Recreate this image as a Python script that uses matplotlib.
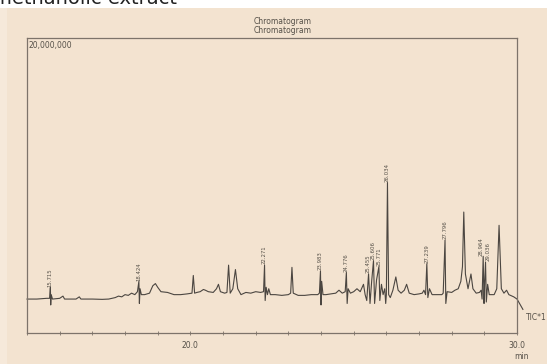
import numpy as np
import matplotlib
matplotlib.use("Agg")
import matplotlib.pyplot as plt
from matplotlib.patches import Rectangle

# TIC trace vertices: retention time (min), intensity (millions)
trace_t = [15.0, 15.3, 15.6, 15.69, 15.715, 15.725, 15.74, 15.78, 16.0, 16.1, 16.15, 16.5, 16.6, 16.65,
           17.0, 17.3, 17.5, 17.7, 17.8, 17.9, 18.0, 18.1, 18.2, 18.3, 18.38, 18.424, 18.44, 18.46, 18.5, 18.6,
           18.75, 18.85, 18.93, 19.0, 19.1, 19.3, 19.5, 19.7, 19.9,
           20.05, 20.09, 20.13, 20.2, 20.3, 20.4, 20.46, 20.55, 20.7, 20.8, 20.86, 20.92, 21.05,
           21.12, 21.17, 21.22, 21.3, 21.38, 21.45, 21.55, 21.7, 21.85, 22.0, 22.15,
           22.24, 22.271, 22.29, 22.32, 22.36, 22.4, 22.45, 22.6, 22.8, 23.0,
           23.07, 23.11, 23.15, 23.3, 23.5, 23.7, 23.9,
           23.95, 23.983, 24.0, 24.02, 24.06, 24.15, 24.3, 24.45, 24.55, 24.65,
           24.74, 24.776, 24.8, 24.83, 24.9, 25.0, 25.1, 25.2, 25.3, 25.35,
           25.40, 25.455, 25.5, 25.55, 25.606, 25.64, 25.7, 25.771, 25.8, 25.85, 25.9, 25.95, 25.98,
           26.0, 26.034, 26.07, 26.12, 26.2, 26.29, 26.36, 26.45, 26.55, 26.62, 26.7, 26.85, 27.0, 27.1,
           27.15, 27.2, 27.239, 27.27, 27.32, 27.4, 27.55, 27.7,
           27.74, 27.796, 27.82, 27.86, 28.0, 28.1, 28.2, 28.28,
           28.33, 28.37, 28.42, 28.5, 28.59, 28.65, 28.75, 28.85, 28.9,
           28.93, 28.964, 28.99, 29.01, 29.036, 29.06, 29.1, 29.15, 29.3, 29.38,
           29.45, 29.52, 29.6, 29.68, 29.75, 29.9, 30.0, 30.18]
trace_i = [2.30, 2.30, 2.35, 2.35, 3.10, 1.90, 2.60, 2.30, 2.35, 2.50, 2.30, 2.30, 2.45, 2.30,
           2.30, 2.28, 2.30, 2.40, 2.50, 2.45, 2.60, 2.55, 2.70, 2.60, 2.80, 3.50, 2.00, 3.00, 2.60, 2.60,
           2.70, 3.20, 3.35, 3.10, 2.80, 2.75, 2.60, 2.60, 2.65,
           2.70, 3.90, 2.70, 2.75, 2.80, 2.95, 2.90, 2.80, 2.75, 3.00, 3.30, 2.80, 2.70,
           2.75, 4.60, 2.70, 3.00, 4.30, 3.00, 2.60, 2.75, 2.70, 2.80, 2.75,
           2.80, 4.60, 2.20, 3.10, 2.60, 3.00, 2.60, 2.60, 2.55, 2.60,
           2.70, 4.45, 2.70, 2.55, 2.55, 2.60, 2.60,
           2.70, 4.20, 1.90, 3.50, 2.60, 2.60, 2.65, 2.70, 2.90, 2.70,
           2.80, 4.10, 2.00, 3.00, 2.70, 2.80, 3.00, 2.80, 3.30, 2.60,
           2.20, 4.00, 2.00, 3.50, 4.90, 2.00, 3.60, 4.50, 2.20, 3.30, 2.60, 3.00, 2.00,
           2.60, 10.20, 2.60, 2.40, 2.90, 3.80, 2.90, 2.70, 2.90, 3.30, 2.70, 2.60, 2.65, 2.70,
           2.90, 2.60, 4.70, 2.40, 3.00, 2.60, 2.60, 2.60,
           2.70, 6.30, 2.00, 2.80, 2.75, 2.90, 3.00, 3.50,
           4.50, 8.20, 4.00, 3.00, 4.00, 3.00, 2.70, 2.75, 2.90,
           2.30, 5.20, 2.00, 3.50, 4.80, 2.10, 3.30, 2.60, 2.60, 3.00,
           7.30, 3.00, 2.70, 2.90, 2.60, 2.45, 2.30, 1.60]

# labelled peaks
peak_times = [15.715, 18.424, 22.271, 23.983, 24.776, 25.455, 25.606, 25.771,
              26.034, 27.239, 27.796, 28.964, 29.036]
peak_labels = ["15.715", "18.424", "22.271", "23.983", "24.776", "25.455", "25.606", "25.771",
               "26.034", "27.239", "27.796", "28.964", "29.036"]

x_ticks = list(range(15, 31))
x_ticklabels = ["" if t not in (20, 30) else "%.1f" % t for t in x_ticks]

bg = "#f3e3d0"
frame = "#7d736a"
ink = "#4b4641"

fig = plt.figure(figsize=(5.47, 3.64), dpi=100, facecolor=bg)

# white strip at top with the cut-off caption
fig.patches.append(Rectangle((0, 0.978), 1, 0.03, transform=fig.transFigure,
                             facecolor="white", edgecolor="none", zorder=0))
fig.patches.append(Rectangle((0, 0), 0.0128, 0.978, transform=fig.transFigure,
                             facecolor="#f6e9da", edgecolor="none", zorder=0))
fig.text(-0.012, 0.988, "methanolic extract", fontsize=14, color="#222222",
         va="baseline", ha="left")

ax = fig.add_axes([0.0494, 0.0852, 0.8958, 0.8104])
ax.set_facecolor(bg)
ax.plot(trace_t, trace_i, color=ink, lw=0.8, clip_on=False)

for t, lab in zip(peak_times, peak_labels):
    h = np.interp(t, trace_t, trace_i)
    ha = "center"
    if lab == "28.964":
        ha = "right"
    elif lab == "29.036":
        ha = "left"
    ax.text(t, h + 0.05, lab, rotation=90, fontsize=3.9, color="#555048",
            ha=ha, va="bottom")

ax.set_xlim(15, 30)
ax.set_ylim(0, 20)
ax.set_xticks(x_ticks)
ax.set_xticklabels(x_ticklabels, fontsize=5.5, color="#555048")
ax.tick_params(axis="x", direction="inout", length=3, width=0.6, color=frame, pad=4)
ax.set_yticks([])
for s in ax.spines.values():
    s.set_color(frame)
    s.set_linewidth(0.9)

ax.text(0.004, 0.99, "20,000,000", transform=ax.transAxes, fontsize=5.5,
        color="#555048", va="top", ha="left")
fig.text(0.517, 0.94, "Chromatogram", fontsize=5.5, color="#555048", ha="center", va="center")
fig.text(0.517, 0.915, "Chromatogram", fontsize=5.5, color="#555048", ha="center", va="center")
fig.text(0.961, 0.128, "TIC*1", fontsize=5.5, color="#555048", ha="left", va="center")
fig.text(0.94, 0.02, "min", fontsize=5.5, color="#555048", ha="left", va="center")

fig.savefig("out.png", dpi=100, facecolor=bg)
